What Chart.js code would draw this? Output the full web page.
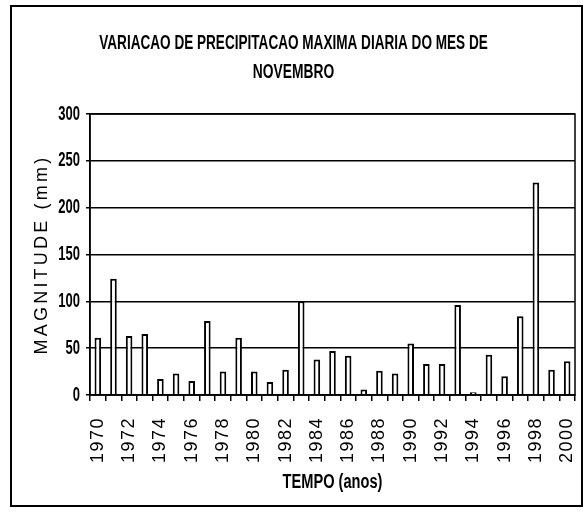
<!DOCTYPE html>
<html>
<head>
<meta charset="utf-8">
<script src="https://cdn.jsdelivr.net/npm/chart.js@4/dist/chart.umd.min.js"></script>
<style>
  body { margin: 0; background: #fff; }
  #frame { position: absolute; left: 10px; top: 5px; width: 569px; height: 498px; border: 2px solid #000; }
</style>
</head>
<body>
<div id="frame"><canvas id="myChart" width="569" height="498"></canvas></div>
<script>
// years on the category axis
const years = ['1970', '1971', '1972', '1973', '1974', '1975', '1976', '1977', '1978', '1979',
    '1980', '1981', '1982', '1983', '1984', '1985', '1986', '1987', '1988', '1989',
    '1990', '1991', '1992', '1993', '1994', '1995', '1996', '1997', '1998', '1999', '2000'];
// maximum daily rainfall in november (mm)
const maxRain = [61, 124, 63, 65, 17, 23, 15, 79, 25, 61,
    25, 14, 27, 100, 38, 47, 42, 6, 26, 23,
    55, 33, 33, 96, 3, 43, 20, 84, 227, 27, 36];
const titleLines = ['VARIACAO DE PRECIPITACAO MAXIMA DIARIA DO MES DE', 'NOVEMBRO'];

const sans = "'Liberation Sans', Arial, sans-serif";

// wrap a draw method: letter spacing and/or horizontal squeeze around x = ox(box)
function restyle(box, name, {gap, sx, ox}) {
    if (!box || box['_orig_' + name]) return;
    const orig = box[name];
    box['_orig_' + name] = orig;
    box[name] = function (...args) {
        const c = this.ctx;
        c.save();
        if (gap) c.letterSpacing = gap;
        if (sx) {
            const x = ox(this);
            c.translate(x, 0);
            c.scale(sx, 1);
            c.translate(-x, 0);
        }
        orig.apply(this, args);
        c.restore();
    };
}

const center = (b) => (b.left + b.right) / 2;

const extras = {
    id: 'extras',
    beforeDraw(chart) {
        const {x, y} = chart.scales;
        restyle(chart.titleBlock, 'draw', {sx: 0.69, ox: center});
        restyle(x, 'drawLabels', {gap: '1.5px'});
        restyle(x, 'drawTitle', {sx: 0.73, ox: center});
        restyle(y, 'drawLabels', {sx: 0.65, ox: (b) => b.right - b.options.grid.tickLength - b.options.ticks.padding});
        restyle(y, 'drawTitle', {gap: '3.2px'});
    },
    afterDraw(chart) {
        const {ctx, chartArea: a} = chart;
        ctx.save();
        ctx.strokeStyle = '#000';
        ctx.lineWidth = 1.5;
        ctx.strokeRect(a.left, a.top, a.right - a.left, a.bottom - a.top);
        ctx.restore();
    }
};

const ctx = document.getElementById('myChart').getContext('2d');
const myChart = new Chart(ctx, {
    type: 'bar',
    data: {
        labels: years,
        datasets: [{
            data: maxRain,
            backgroundColor: '#fff',
            borderColor: '#000',
            borderWidth: 2,
            barPercentage: 0.42,
            categoryPercentage: 1
        }]
    },
    options: {
        responsive: false,
        animation: false,
        layout: {padding: {left: 0, right: 6, top: 0, bottom: 0}},
        scales: {
            x: {
                afterFit: (s) => { s.height = 110; s.paddingLeft = 0; s.paddingRight = 0; },
                grid: {drawOnChartArea: false, color: '#000', lineWidth: 1.5, tickLength: 6},
                border: {color: '#000', width: 1.5},
                ticks: {
                    color: '#000',
                    font: {family: sans, size: 18},
                    padding: 16,
                    autoSkip: false,
                    maxRotation: 90,
                    minRotation: 90,
                    callback: function (value, index) {
                        return index % 2 === 0 ? this.getLabelForValue(value) : '';
                    }
                },
                title: {
                    display: true,
                    text: 'TEMPO (anos)',
                    color: '#000',
                    font: {family: sans, size: 20, weight: 'bold', lineHeight: 1.2},
                    padding: {top: 0, bottom: 11}
                }
            },
            y: {
                min: 0,
                max: 300,
                afterFit: (s) => { s.width = 78; },
                grid: {color: '#000', lineWidth: 1.5, tickLength: 4},
                border: {color: '#000', width: 1.5},
                ticks: {
                    stepSize: 50,
                    color: '#000',
                    padding: 6,
                    font: {family: sans, size: 20, weight: 'bold'}
                },
                title: {
                    display: true,
                    text: 'MAGNITUDE (mm)',
                    color: '#000',
                    font: {family: sans, size: 18, lineHeight: 1.2},
                    padding: {top: 19.7, bottom: 0}
                }
            }
        },
        plugins: {
            legend: {display: false},
            tooltip: {enabled: false},
            title: {
                display: true,
                text: titleLines,
                color: '#000',
                font: {family: sans, size: 20, weight: 'bold', lineHeight: 1.45},
                padding: {top: 21.5, bottom: 27.5}
            }
        }
    },
    plugins: [extras]
});
</script>
</body>
</html>
